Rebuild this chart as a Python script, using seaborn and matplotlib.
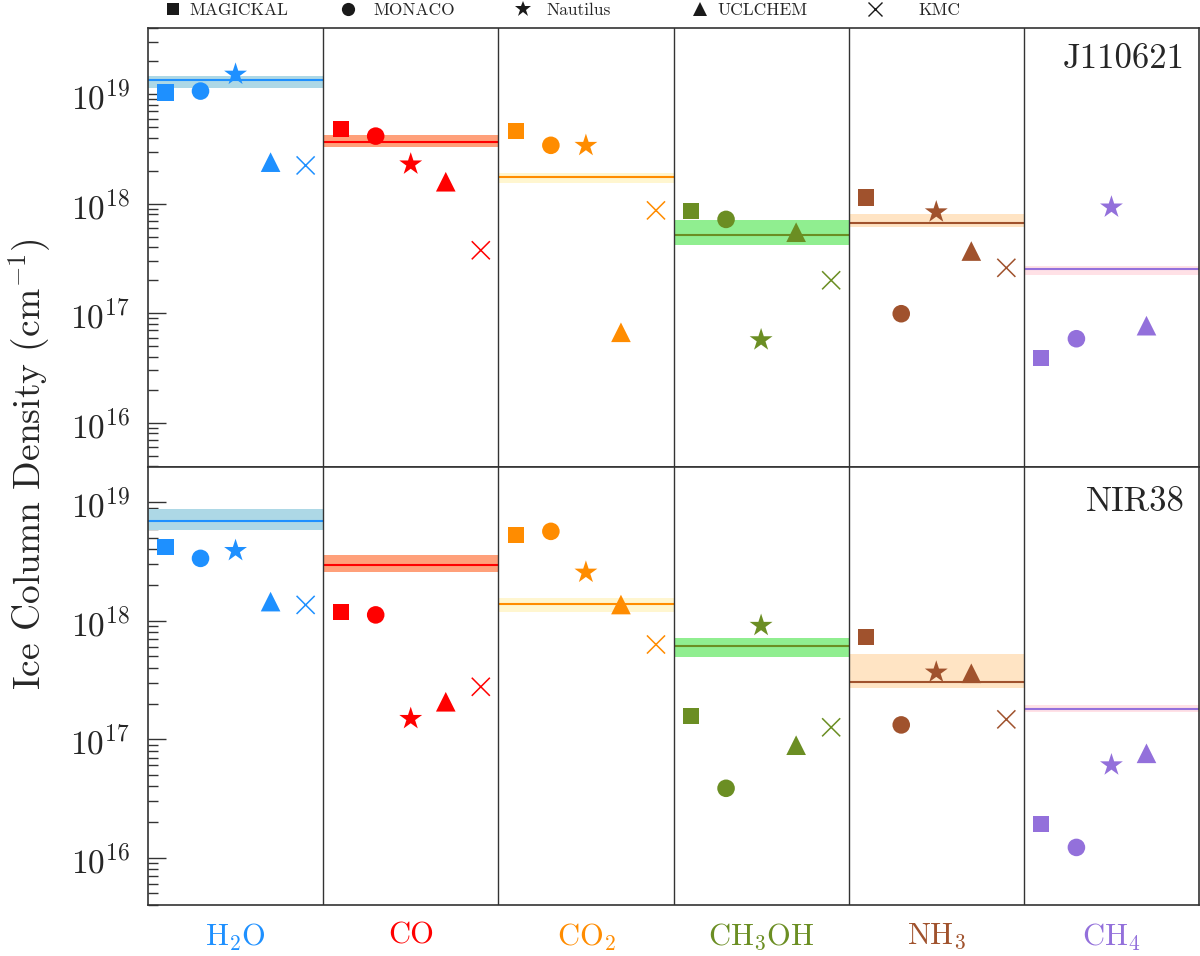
import numpy as np
import pandas as pd
import matplotlib
matplotlib.use('Agg')
import matplotlib.pyplot as plt
import seaborn as sns
from matplotlib.lines import Line2D
from matplotlib.ticker import LogLocator, NullFormatter

# ---------------- data ----------------
molecules = ['H2O', 'CO', 'CO2', 'CH3OH', 'NH3', 'CH4']
mol_labels = [r'H$_2$O', 'CO', r'CO$_2$', r'CH$_3$OH', r'NH$_3$', r'CH$_4$']
models = ['MAGICKAL', 'MONACO', 'Nautilus', 'UCLCHEM', 'KMC']
sources = ['J110621', 'NIR38']

# J110621
j_magickal = [1.04e19, 4.8e18, 4.6e18, 8.6e17, 1.14e18, 3.9e16]
j_monaco = [1.07e19, 4.15e18, 3.42e18, 7.2e17, 9.9e16, 5.85e16]
j_nautilus = [1.52e19, 2.3e18, 3.4e18, 5.7e16, 8.4e17, 9.3e17]
j_uclchem = [2.4e18, 1.59e18, 6.7e16, 5.5e17, 3.7e17, 7.7e16]
j_kmc = [2.24e18, 3.76e17, 8.7e17, 2.0e17, 2.6e17, np.nan]
j_obs = [1.34e19, 3.68e18, 1.75e18, 5.15e17, 6.67e17, 2.55e17]
j_obs_lo = [1.15e19, 3.31e18, 1.56e18, 4.24e17, 6.1e17, 2.23e17]
j_obs_hi = [1.46e19, 4.24e18, 1.93e18, 7.05e17, 8.1e17, 2.69e17]

# NIR38
n_magickal = [4.16e18, 1.18e18, 5.28e18, 1.56e17, 7.3e17, 1.91e16]
n_monaco = [3.36e18, 1.12e18, 5.68e18, 3.85e16, 1.32e17, 1.22e16]
n_nautilus = [3.9e18, 1.49e17, 2.56e18, 9.1e17, 3.67e17, 6.05e16]
n_uclchem = [1.45e18, 2.07e17, 1.37e18, 8.9e16, 3.6e17, 7.6e16]
n_kmc = [1.36e18, 2.77e17, 6.3e17, 1.26e17, 1.47e17, np.nan]
n_obs = [6.93e18, 2.97e18, 1.38e18, 6.1e17, 3.02e17, 1.81e17]
n_obs_lo = [5.79e18, 2.59e18, 1.19e18, 4.97e17, 2.69e17, 1.69e17]
n_obs_hi = [8.77e18, 3.58e18, 1.57e18, 7.2e17, 5.24e17, 1.95e17]

mol_colors = ['#1E90FF', '#FF0000', '#FF8C00', '#6B8E23', '#A0522D', '#9370DB']
band_colors = ['#ADD8E6', '#FFA07A', '#FFF6D0', '#90EE90', '#FFE4C4', '#FFE1E6']

model_values = {
    'J110621': [j_magickal, j_monaco, j_nautilus, j_uclchem, j_kmc],
    'NIR38': [n_magickal, n_monaco, n_nautilus, n_uclchem, n_kmc],
}
obs_values = {
    'J110621': (j_obs, j_obs_lo, j_obs_hi),
    'NIR38': (n_obs, n_obs_lo, n_obs_hi),
}

# ---------------- style ----------------
sns.set_theme(style='white')
plt.rcParams['font.family'] = ['cmr10', 'DejaVu Serif']
plt.rcParams['mathtext.fontset'] = 'cm'
plt.rcParams['axes.formatter.use_mathtext'] = True
plt.rcParams['axes.unicode_minus'] = False

model_offsets = dict(zip(models, [0.1, 0.3, 0.5, 0.7, 0.9]))
rows = []
for src in sources:
    for m, vals in zip(models, model_values[src]):
        for i, (mol, v) in enumerate(zip(molecules, vals)):
            if np.isnan(v):
                continue
            rows.append(dict(source=src, model=m, molecule=mol, idx=i,
                             x=i + model_offsets[m], value=v))
df = pd.DataFrame(rows)

palette = dict(zip(molecules, mol_colors))
markers = {'MAGICKAL': 's', 'MONACO': 'o', 'Nautilus': '*', 'UCLCHEM': '^'}
sizes = {'MAGICKAL': 135, 'MONACO': 160, 'Nautilus': 300, 'UCLCHEM': 200}

fig = plt.figure(figsize=(12, 9.56), dpi=100)
ax_top = fig.add_axes([0.1233, 0.5118, 0.8759, 0.4586])
ax_bot = fig.add_axes([0.1233, 0.0533, 0.8759, 0.4585])
ylims = {'J110621': (10**15.598, 10**19.603), 'NIR38': (10**15.6, 10**19.3)}

for ax, src in zip([ax_top, ax_bot], sources):
    obs, lo, hi = obs_values[src]
    for i in range(len(molecules)):
        ax.fill_between([i, i + 1], [lo[i]] * 2, [hi[i]] * 2,
                        color=band_colors[i], lw=0, zorder=1)
        ax.hlines(obs[i], i, i + 1, color=mol_colors[i], lw=1.5, zorder=2)
    for k in range(1, len(molecules)):
        ax.axvline(k, color='#333333', lw=1.0, zorder=3)
    d = df[df.source == src]
    sns.scatterplot(data=d[d.model != 'KMC'], x='x', y='value',
                    hue='molecule', palette=palette,
                    style='model', markers=markers,
                    size='model', sizes=sizes,
                    linewidth=0, legend=False, ax=ax, zorder=5)
    sns.scatterplot(data=d[d.model == 'KMC'], x='x', y='value',
                    hue='molecule', palette=palette, marker='x',
                    s=170, linewidth=1.1, legend=False, ax=ax, zorder=5)
    ax.set_yscale('log')
    ax.set_ylim(*ylims[src])
    ax.set_xlim(0, len(molecules))
    ax.set_xlabel('')
    ax.set_ylabel('')
    ax.yaxis.set_major_locator(LogLocator(base=10, numticks=20))
    ax.yaxis.set_minor_locator(LogLocator(base=10, subs=np.arange(2, 10), numticks=20))
    ax.yaxis.set_minor_formatter(NullFormatter())
    ax.tick_params(axis='y', which='major', direction='in', length=13, width=1.0,
                   color='#333333', left=True, right=False, labelsize=24, pad=13)
    ax.tick_params(axis='y', which='minor', direction='in', length=7, width=1.0,
                   color='#333333', left=True, right=False)
    for sp in ax.spines.values():
        sp.set_color('#333333')
        sp.set_linewidth(1.2)
    ax.text(0.986, 0.93 if src == 'J110621' else 0.92, src,
            transform=ax.transAxes, ha='right', va='center', fontsize=25)

ax_top.set_xticks([])
ax_bot.set_xticks(np.arange(len(molecules)) + 0.5)
ax_bot.set_xticklabels(mol_labels)
ax_bot.tick_params(axis='x', length=0, labelsize=22, pad=12)
for lab, c in zip(ax_bot.get_xticklabels(), mol_colors):
    lab.set_color(c)

fig.text(0.025, 0.515, r'Ice Column Density (cm$^{-1}$)', rotation=90,
         ha='center', va='center', fontsize=27)

# legend: one entry per model along the top
leg_markers = ['s', 'o', '*', '^', 'x']
leg_msizes = [8.5, 9.5, 12, 10, 10]
leg_marker_px = [173, 348, 523, 700, 875]
leg_textpad = [0.46, 0.94, 0.82, 0.52, 2.0]
fs = 12.5
handle_px = fs * 100 / 72
for m, mk, ms, px, tp in zip(models, leg_markers, leg_msizes, leg_marker_px, leg_textpad):
    h = Line2D([], [], ls='none', marker=mk, color='k', markersize=ms,
               markeredgewidth=1.0 if mk == 'x' else 0)
    fig.legend([h], [m], loc='center left',
               bbox_to_anchor=((px - handle_px / 2) / 1200, 0.9895),
               frameon=False, fontsize=fs, handletextpad=tp,
               handlelength=1.0, borderaxespad=0, borderpad=0)

fig.savefig('out.png', dpi=100)
